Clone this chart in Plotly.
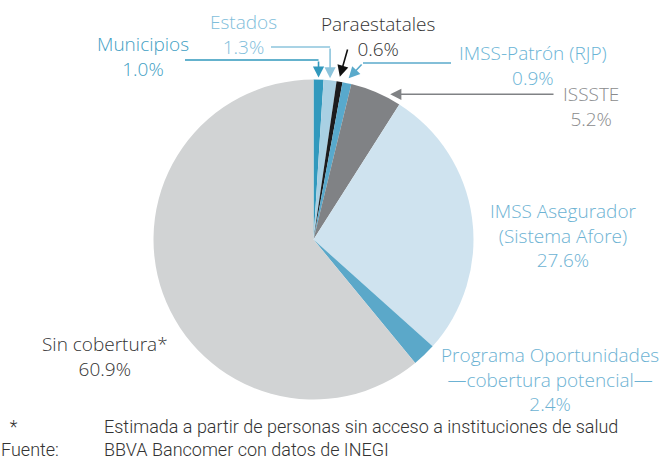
import math
import plotly.graph_objects as go

W, H = 659, 462

# ---- data ----
categories = ["Municipios", "Estados", "Paraestatales", "IMSS-Patrón (RJP)", "ISSSTE",
              "IMSS Asegurador (Sistema Afore)", "Programa Oportunidades —cobertura potencial—",
              "Sin cobertura*"]
values = [1.0, 1.3, 0.6, 0.9, 5.2, 27.6, 2.4, 60.9]
label_lines = [["Municipios"], ["Estados"], ["Paraestatales"], ["IMSS-Patrón (RJP)"], ["ISSSTE"],
               ["IMSS Asegurador", "(Sistema Afore)"],
               ["Programa Oportunidades", "—cobertura potencial—"], ["Sin cobertura*"]]
footnote_mark = "*"
footnote_text = "Estimada a partir de personas sin acceso a instituciones de salud"
source_label = "Fuente:"
source_text = "BBVA Bancomer con datos de INEGI"

# ---- styles ----
slice_colors = ["#3199bd", "#a9d0e3", "#1c1c1e", "#58a9cc", "#808285", "#cfe3ef", "#5ba8c9", "#d1d3d4"]
text_colors = ["#3fa0c4", "#7fbedb", "#333333", "#6ab4d6", "#8a8b8d", "#6cb2d3", "#6cb2d3", "#333333"]
arrow_colors = ["#3199bd", "#8cc4dc", "#111111", "#5aaacb", "#808285", None, None, None]
# label block centers (px)
label_pos = [(143, 57), (243, 34), (378, 36), (533, 66), (591, 106), (563, 235), (550, 379), (105, 356)]

FONT = "Open Sans"
FS = 19

cx, cy, r = 313.5, 239.5, 160.0

def px(x):
    return x / W

def py(y):
    return 1 - y / H

fig = go.Figure()
fig.add_trace(go.Pie(
    labels=categories, values=values, sort=False, direction="clockwise", rotation=0,
    marker=dict(colors=slice_colors, line=dict(width=0)),
    textinfo="none", hoverinfo="label+percent", showlegend=False,
    domain=dict(x=[px(cx - r), px(cx + r)], y=[py(cy + r), py(cy - r)]),
))

total = sum(values)
cum = 0.0
rim = []
for v in values:
    mid = (cum + v / 2) / total * 2 * math.pi
    rim.append((cx + r * math.sin(mid), cy - r * math.cos(mid)))
    cum += v

annotations = []
shapes = []
for i, lines in enumerate(label_lines):
    txt = "<br>".join(lines + [f"{values[i]:.1f}%"])
    x, y = label_pos[i]
    annotations.append(dict(x=px(x), y=py(y), xref="paper", yref="paper", text=txt,
                            showarrow=False, xanchor="center", yanchor="middle", align="center",
                            borderpad=0,
                            font=dict(family=FONT, size=FS, color=text_colors[i], weight=300)))

def arrow(tip, tail, color, standoff=1):
    annotations.append(dict(x=px(tip[0]), y=py(tip[1]), xref="paper", yref="paper", text="",
                            showarrow=True, ax=tail[0] - tip[0], ay=tail[1] - tip[1],
                            arrowhead=2, arrowsize=1.4, arrowwidth=1.6, arrowcolor=color,
                            standoff=standoff))

def hline(x0, x1, y, color):
    shapes.append(dict(type="line", xref="paper", yref="paper", x0=px(x0), x1=px(x1),
                       y0=py(y), y1=py(y), line=dict(color=color, width=1.6)))

# Municipios: elbow
p = rim[0]
hline(185, p[0], 60, arrow_colors[0])
arrow((p[0], p[1] - 1), (p[0], 60), arrow_colors[0])
# Estados: elbow
p = rim[1]
hline(271, p[0], 47, arrow_colors[1])
arrow((p[0], p[1] - 1), (p[0], 47), arrow_colors[1])
# Paraestatales: straight
p = rim[2]
arrow((p[0], p[1] - 4), (348, 48), arrow_colors[2])
# IMSS-Patrón: horizontal then diagonal
p = rim[3]
hline(451, 363, 63, arrow_colors[3])
arrow((p[0] + 1, p[1] - 4), (363, 63), arrow_colors[3])
# ISSSTE: horizontal
p = rim[4]
arrow((p[0] + 13, p[1] + 2), (555, p[1] + 2), arrow_colors[4])

# footer (two columns, each a two-line block)
foot_font = dict(family="Roboto", size=18, color="#333333", weight=300)
annotations.append(dict(x=0, y=py(461), xref="paper", yref="paper",
                        text="&nbsp;&nbsp;" + footnote_mark + "<br>" + source_label,
                        showarrow=False, xanchor="left", yanchor="bottom", align="left",
                        borderpad=0, font=foot_font))
annotations.append(dict(x=px(103), y=py(461), xref="paper", yref="paper",
                        text=footnote_text + "<br>" + source_text,
                        showarrow=False, xanchor="left", yanchor="bottom", align="left",
                        borderpad=0, font=foot_font))

fig.update_layout(width=W, height=H, margin=dict(l=0, r=0, t=0, b=0),
                  paper_bgcolor="white", plot_bgcolor="white",
                  annotations=annotations, shapes=shapes)
fig.write_html("out.html", config={"displayModeBar": False},
               post_script="document.body.style.margin='0';document.body.style.overflow='hidden';")
